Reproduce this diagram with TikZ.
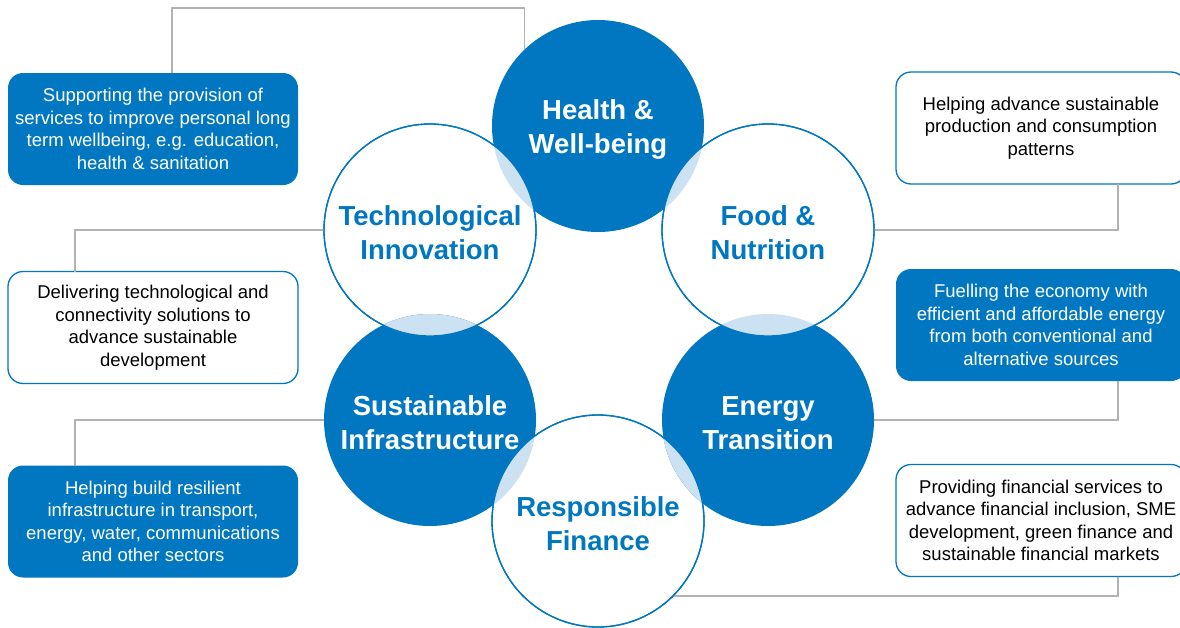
\documentclass[tikz,border=0pt]{standalone}
\usepackage{fontspec}
\setmainfont{Liberation Sans}
\usepackage{xcolor}
\usepackage{tikz}
\usetikzlibrary{positioning}
\definecolor{cblue}{RGB}{0,119,192}
\definecolor{clight}{RGB}{204,226,242}
\definecolor{cgray}{RGB}{178,178,178}
\newcommand{\panelfont}{\fontsize{18.5}{22.5}\selectfont}
\newcommand{\hubfont}{\fontsize{27.5}{34}\selectfont\bfseries}
\tikzset{
  hub/.style={circle,minimum size=212pt,inner sep=0pt,outer sep=0pt},
  bluehub/.style={hub,fill=cblue},
  whitehub/.style={hub,fill=white,draw=cblue,line width=1.3pt},
  hubtitle/.style={font=\hubfont,align=center,yshift=-3pt},
  panel/.style={rectangle,rounded corners=15pt,minimum width=290pt,minimum height=112pt,
    inner sep=0pt,outer sep=0pt,align=center,font=\panelfont},
  bluepanel/.style={panel,fill=cblue,text=white},
  whitepanel/.style={panel,fill=white,draw=cblue,line width=1.3pt,text=black},
  link/.style={draw=cgray,line width=1.3pt}
}
\begin{document}
\begin{tikzpicture}[node distance=190pt,on grid]
  \path[use as bounding box] (0,0) rectangle (1180pt,-627pt);
  \clip (0,0) rectangle (1180pt,-627pt);

  \node[bluepanel] (support) at (153pt,-129pt) {Supporting the provision of\\services to improve personal long\\term wellbeing, e.g. education,\\health \& sanitation};
  \node[whitepanel] (deliver) at (153pt,-327.5pt) {Delivering technological and\\connectivity solutions to\\advance sustainable\\development};
  \node[bluepanel] (build) at (153pt,-521.5pt) {Helping build resilient\\infrastructure in transport,\\energy, water, communications\\and other sectors};
  \node[whitepanel] (advance) at (1041pt,-128pt) {Helping advance sustainable\\production and consumption\\patterns};
  \node[bluepanel] (fuel) at (1041pt,-325pt) {Fuelling the economy with\\efficient and affordable energy\\from both conventional and\\alternative sources};
  \node[whitepanel] (provide) at (1041pt,-520.5pt) {Providing financial services to\\advance financial inclusion, SME\\development, green finance and\\sustainable financial markets};

  \node[bluehub] (health) at (598pt,-126pt) {};
  \node[whitehub] (tech) [below left=104pt and 168pt of health] {};
  \node[bluehub] (infra) [below=of tech] {};
  \node[whitehub] (finance) [below right=101pt and 168pt of infra] {};
  \node[bluehub] (energy) [above right=101pt and 170pt of finance] {};
  \node[whitehub] (food) [above=of energy] {};

  \coordinate (topbend) at (health.134 |- 0,-8pt);
  \draw[link] ([xshift=19pt]support.north) |- (topbend) -- (health.134);
  \draw[link] (tech.west) -| ([xshift=-78pt]deliver.north);
  \draw[link] (infra.west) -| ([xshift=-78pt]build.north);
  \draw[link] ([xshift=77pt]advance.south) |- (food.east);
  \draw[link] ([xshift=77pt]fuel.south) |- (energy.east);
  \draw[link] ([xshift=77pt]provide.south) |- (finance.-45);

  % overlaps of blue and white circles
  \begin{scope} \clip (tech) circle (106pt); \fill[clight] (health) circle (106pt); \end{scope}
  \begin{scope} \clip (food) circle (106pt); \fill[clight] (health) circle (106pt); \end{scope}
  \begin{scope} \clip (food) circle (106pt); \fill[clight] (energy) circle (106pt); \end{scope}
  \begin{scope} \clip (finance) circle (106pt); \fill[clight] (energy) circle (106pt); \end{scope}
  \begin{scope} \clip (tech) circle (106pt); \fill[clight] (infra) circle (106pt); \end{scope}
  \begin{scope} \clip (finance) circle (106pt); \fill[clight] (infra) circle (106pt); \end{scope}
  \draw[cblue,line width=1.3pt] (tech) circle (106pt) (food) circle (106pt) (finance) circle (106pt);

  \node[hubtitle,text=white] (health-t) at (health) {Health \&\\Well-being};
  \node[hubtitle,text=cblue] (tech-t) at (tech) {Technological\\Innovation};
  \node[hubtitle,text=white] (infra-t) at (infra) {Sustainable\\Infrastructure};
  \node[hubtitle,text=cblue] (finance-t) at (finance) {Responsible\\Finance};
  \node[hubtitle,text=white] (energy-t) at (energy) {Energy\\Transition};
  \node[hubtitle,text=cblue] (food-t) at (food) {Food \&\\Nutrition};
\end{tikzpicture}
\end{document}
